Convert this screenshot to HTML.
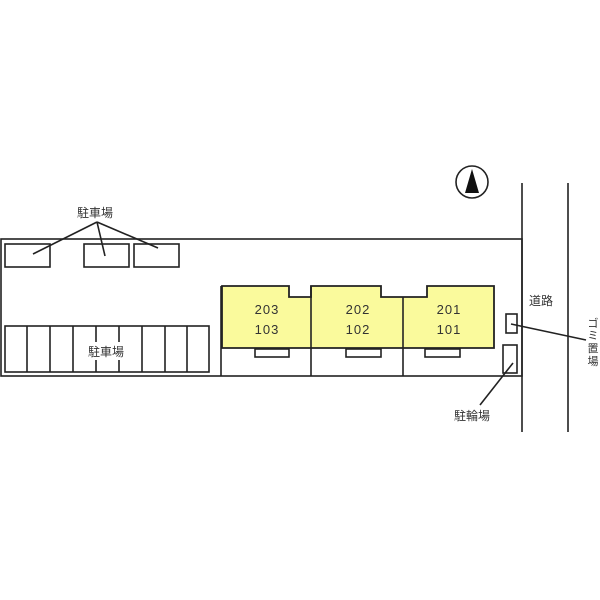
<!DOCTYPE html>
<html><head><meta charset="utf-8"><style>body{margin:0;background:#fff}svg{display:block}text{font-family:"Liberation Sans","Noto Sans CJK JP",sans-serif;fill:#333}</style></head><body>
<svg width="600" height="600" viewBox="0 0 600 600" xmlns="http://www.w3.org/2000/svg">
<g fill="none" stroke="#222" stroke-width="1.6">
<rect x="1" y="239" width="521" height="137"/>
<line x1="522" y1="183" x2="522" y2="432"/>
<line x1="568" y1="183" x2="568" y2="432"/>
<rect x="5" y="244" width="45" height="23"/>
<rect x="84" y="244" width="45" height="23"/>
<rect x="134" y="244" width="45" height="23"/>
<line x1="97" y1="222" x2="33" y2="254"/>
<line x1="97" y1="222" x2="105" y2="256"/>
<line x1="97" y1="222" x2="158" y2="248"/>
<rect x="5" y="326" width="204" height="46"/>
<line x1="27" y1="326" x2="27" y2="372"/><line x1="50" y1="326" x2="50" y2="372"/>
<line x1="73" y1="326" x2="73" y2="372"/><line x1="96" y1="326" x2="96" y2="372"/>
<line x1="119" y1="326" x2="119" y2="372"/><line x1="142" y1="326" x2="142" y2="372"/>
<line x1="165" y1="326" x2="165" y2="372"/><line x1="187" y1="326" x2="187" y2="372"/>
</g>
<rect x="84" y="342" width="44" height="18" fill="#fff"/>
<text x="106" y="356" font-size="12" text-anchor="middle">駐車場</text>
<text x="95" y="217" font-size="12" text-anchor="middle">駐車場</text>
<polygon points="222,286 289,286 289,297 311,297 311,286 381,286 381,297 403,297 427,297 427,286 494,286 494,348 222,348 222,286" fill="#fafa9c" stroke="#222" stroke-width="1.8"/>
<g fill="none" stroke="#222" stroke-width="1.6">
<line x1="311" y1="286" x2="311" y2="376"/><line x1="403" y1="297" x2="403" y2="376"/>
<line x1="221" y1="286" x2="221" y2="376"/>
<rect x="255" y="349" width="34" height="8" fill="#fff"/>
<rect x="346" y="349" width="35" height="8" fill="#fff"/>
<rect x="425" y="349" width="35" height="8" fill="#fff"/>
<rect x="506" y="314" width="11" height="19"/>
<rect x="503" y="345" width="14" height="28"/>
<line x1="511" y1="324" x2="586" y2="340"/>
<line x1="513" y1="363" x2="480" y2="405"/>
<circle cx="472" cy="182" r="16"/>
</g>
<polygon points="472,169 465,193 479,193" fill="#111"/>
<g font-size="13" text-anchor="middle" letter-spacing="1">
<text x="267" y="314">203</text><text x="267" y="334">103</text>
<text x="358" y="314">202</text><text x="358" y="334">102</text>
<text x="449" y="314">201</text><text x="449" y="334">101</text>
</g>
<text x="541" y="305" font-size="12" text-anchor="middle">道路</text>
<text x="472" y="420" font-size="12" text-anchor="middle">駐輪場</text>
<g font-size="11" text-anchor="middle">
<text x="593" y="327">ゴ</text>
<text x="593" y="339">ミ</text>
<text x="593" y="352">置</text>
<text x="593" y="365">場</text>
</g>
</svg>
</body></html>
